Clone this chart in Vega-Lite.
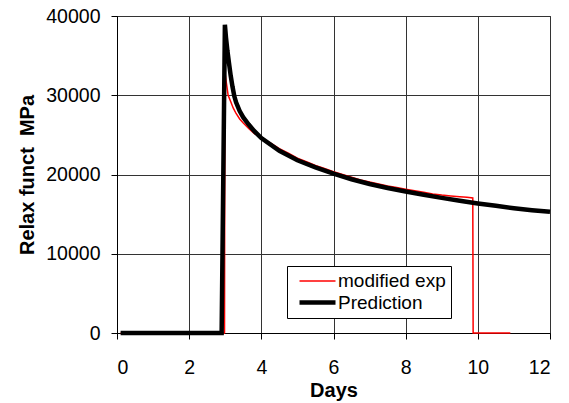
{
  "$schema": "https://vega.github.io/schema/vega-lite/v6.json",
  "width": 433,
  "height": 317,
  "autosize": {"type": "none"},
  "padding": {"left": 117, "top": 16, "right": 19, "bottom": 70},
  "background": "white",
  "config": {
    "view": {"stroke": "#222", "strokeWidth": 1},
    "axis": {
      "labelFont": "Liberation Sans",
      "labelFontSize": 19.5,
      "labelColor": "black",
      "titleFont": "Liberation Sans",
      "titleFontSize": 20,
      "titleFontWeight": "bold",
      "titleColor": "black",
      "tickColor": "black",
      "domainColor": "black",
      "gridColor": "#333",
      "gridOpacity": 1,
      "tickSize": 6
    }
  },
  "data": {
    "values": [
      {"series": "modified exp", "day": 0.1, "value": 0},
      {"series": "modified exp", "day": 2.98, "value": 0},
      {"series": "modified exp", "day": 2.99, "value": 33000},
      {"series": "modified exp", "day": 3.03, "value": 31600},
      {"series": "modified exp", "day": 3.08, "value": 30000},
      {"series": "modified exp", "day": 3.15, "value": 29200},
      {"series": "modified exp", "day": 3.22, "value": 28400},
      {"series": "modified exp", "day": 3.3, "value": 27700},
      {"series": "modified exp", "day": 3.4, "value": 27000},
      {"series": "modified exp", "day": 3.5, "value": 26500},
      {"series": "modified exp", "day": 3.65, "value": 25800},
      {"series": "modified exp", "day": 3.8, "value": 25200},
      {"series": "modified exp", "day": 4.0, "value": 24600},
      {"series": "modified exp", "day": 4.25, "value": 24000},
      {"series": "modified exp", "day": 4.5, "value": 23250},
      {"series": "modified exp", "day": 4.75, "value": 22700},
      {"series": "modified exp", "day": 5.0, "value": 22050},
      {"series": "modified exp", "day": 5.25, "value": 21600},
      {"series": "modified exp", "day": 5.5, "value": 21150},
      {"series": "modified exp", "day": 5.75, "value": 20750},
      {"series": "modified exp", "day": 6.0, "value": 20350},
      {"series": "modified exp", "day": 6.25, "value": 20000},
      {"series": "modified exp", "day": 6.5, "value": 19650},
      {"series": "modified exp", "day": 6.75, "value": 19300},
      {"series": "modified exp", "day": 7.0, "value": 19050},
      {"series": "modified exp", "day": 7.25, "value": 18800},
      {"series": "modified exp", "day": 7.5, "value": 18550},
      {"series": "modified exp", "day": 7.75, "value": 18350},
      {"series": "modified exp", "day": 8.0, "value": 18150},
      {"series": "modified exp", "day": 8.25, "value": 17950},
      {"series": "modified exp", "day": 8.5, "value": 17750},
      {"series": "modified exp", "day": 8.75, "value": 17550},
      {"series": "modified exp", "day": 9.0, "value": 17400},
      {"series": "modified exp", "day": 9.25, "value": 17300},
      {"series": "modified exp", "day": 9.5, "value": 17200},
      {"series": "modified exp", "day": 9.7, "value": 17120},
      {"series": "modified exp", "day": 9.86, "value": 17050},
      {"series": "modified exp", "day": 9.87, "value": 0},
      {"series": "modified exp", "day": 10.9, "value": 0},
      {"series": "Prediction", "day": 0.1, "value": 0},
      {"series": "Prediction", "day": 2.9, "value": 0},
      {"series": "Prediction", "day": 2.99, "value": 38900},
      {"series": "Prediction", "day": 3.02, "value": 37300},
      {"series": "Prediction", "day": 3.06, "value": 35600},
      {"series": "Prediction", "day": 3.1, "value": 34200},
      {"series": "Prediction", "day": 3.15, "value": 32500},
      {"series": "Prediction", "day": 3.2, "value": 31100},
      {"series": "Prediction", "day": 3.25, "value": 29900},
      {"series": "Prediction", "day": 3.3, "value": 29100},
      {"series": "Prediction", "day": 3.4, "value": 28000},
      {"series": "Prediction", "day": 3.5, "value": 27200},
      {"series": "Prediction", "day": 3.65, "value": 26300},
      {"series": "Prediction", "day": 3.8, "value": 25500},
      {"series": "Prediction", "day": 4.0, "value": 24600},
      {"series": "Prediction", "day": 4.5, "value": 23000},
      {"series": "Prediction", "day": 5.0, "value": 21800},
      {"series": "Prediction", "day": 5.5, "value": 20900},
      {"series": "Prediction", "day": 6.0, "value": 20100},
      {"series": "Prediction", "day": 6.5, "value": 19400},
      {"series": "Prediction", "day": 7.0, "value": 18800},
      {"series": "Prediction", "day": 7.5, "value": 18300},
      {"series": "Prediction", "day": 8.0, "value": 17850},
      {"series": "Prediction", "day": 8.5, "value": 17450},
      {"series": "Prediction", "day": 9.0, "value": 17050},
      {"series": "Prediction", "day": 9.5, "value": 16700},
      {"series": "Prediction", "day": 10.0, "value": 16350},
      {"series": "Prediction", "day": 10.5, "value": 16050},
      {"series": "Prediction", "day": 11.0, "value": 15750},
      {"series": "Prediction", "day": 11.5, "value": 15500},
      {"series": "Prediction", "day": 12.0, "value": 15300}
    ]
  },
  "encoding": {
    "x": {
      "field": "day", "type": "quantitative",
      "scale": {"domain": [0, 12], "nice": false},
      "axis": {"values": [0, 2, 4, 6, 8, 10, 12], "title": "Days", "labelPadding": 19, "titlePadding": 4, "grid": true}
    },
    "y": {
      "field": "value", "type": "quantitative",
      "scale": {"domain": [0, 40000], "nice": false},
      "axis": {"values": [0, 10000, 20000, 30000, 40000], "format": "d", "title": "Relax funct\u00a0 MPa", "labelPadding": 11, "titlePadding": 8, "grid": true}
    },
    "color": {
      "field": "series", "type": "nominal",
      "scale": {"domain": ["modified exp", "Prediction"], "range": ["#ff0000", "#000000"]},
      "legend": {
        "title": null,
        "orient": "none",
        "legendX": 170,
        "legendY": 250,
        "direction": "vertical",
        "strokeColor": "black",
        "fillColor": "white",
        "padding": 5,
        "labelFont": "Liberation Sans",
        "labelFontSize": 19,
        "labelColor": "black",
        "symbolType": "M-2,0H2",
        "symbolSize": 324,
        "symbolOffset": 14,
        "rowPadding": 0,
        "labelOffset": 9
      }
    },
    "strokeWidth": {
      "field": "series", "type": "nominal",
      "scale": {"domain": ["modified exp", "Prediction"], "range": [1.5, 4.5]},
      "legend": null
    }
  },
  "layer": [
    {
      "transform": [{"filter": "datum.series === 'modified exp'"}],
      "mark": {"type": "line", "interpolate": "linear"}
    },
    {
      "transform": [{"filter": "datum.series === 'Prediction'"}],
      "mark": {"type": "line", "interpolate": "linear"}
    }
  ]
}
